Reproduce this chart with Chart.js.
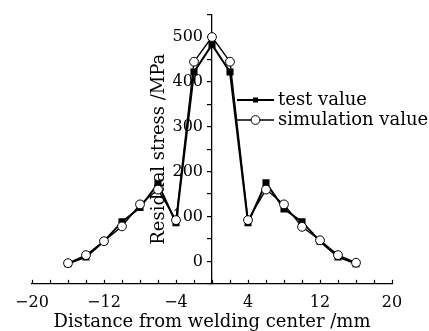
<!DOCTYPE html>
<html>
<head>
<meta charset="utf-8">
<script src="https://cdn.jsdelivr.net/npm/chart.js@4"></script>
<style>
  html, body { margin: 0; padding: 0; background: #fff; }
  .chart-wrap { width: 429px; height: 331px; }
</style>
</head>
<body>
<div class="chart-wrap"><canvas id="stress-chart" width="429" height="331"></canvas></div>
<script>
// distance from welding center (mm)
const distances = [-16, -14, -12, -10, -8, -6, -4, -2, 0, 2, 4, 6, 8, 10, 12, 14, 16];
// residual stress (MPa)
const testValues = [-5, 10, 45, 88, 120, 173, 86, 422, 483, 422, 86, 175, 117, 88, 45, 10, -5];
const simValues = [-4, 14, 45, 78, 127, 160, 92, 445, 500, 445, 92, 160, 127, 77, 47, 14, -3];
const seriesNames = ['test value', 'simulation value'];
const xTickLabels = [-20, -12, -4, 4, 12, 20];
const yTickLabels = [0, 100, 200, 300, 400, 500];

const serif = '"DejaVu Serif", "Liberation Serif", serif';

function toPoints(ys) {
  return distances.map((x, i) => ({ x: x, y: ys[i] }));
}

// minus sign like the print
function fmt(v) {
  return v < 0 ? '\u2212' + Math.abs(v) : String(v);
}

// x ticks point up into the plot
const innerTicks = {
  id: 'innerTicks',
  afterDraw(chart) {
    const { ctx, chartArea, scales } = chart;
    const xs = scales.x;
    ctx.save();
    ctx.strokeStyle = '#000';
    ctx.lineWidth = 1.2;
    for (let v = xs.min; v <= xs.max; v += 2) {
      const px = Math.round(xs.getPixelForValue(v)) + 0.5;
      ctx.beginPath();
      ctx.moveTo(px, chartArea.bottom);
      ctx.lineTo(px, chartArea.bottom - 4);
      ctx.stroke();
    }
    ctx.restore();
  }
};

// y title sits left of the centred axis, reading bottom to top
const yTitle = {
  id: 'yTitle',
  beforeDatasetsDraw(chart) {
    const { ctx, chartArea, scales } = chart;
    const x0 = scales.x.getPixelForValue(0);
    ctx.save();
    ctx.translate(x0 - 53, (chartArea.top + chartArea.bottom) / 2);
    ctx.rotate(-Math.PI / 2);
    ctx.font = '18px ' + serif;
    ctx.fillStyle = '#000';
    ctx.textAlign = 'center';
    ctx.textBaseline = 'middle';
    ctx.fillText('Residual stress /MPa', 0, 0);
    ctx.restore();
  }
};

// legend inside the plot, right of the peak
const sideLegend = {
  id: 'sideLegend',
  afterDraw(chart) {
    const { ctx } = chart;
    const rows = [
      { ds: chart.data.datasets[1], y: 100 },
      { ds: chart.data.datasets[0], y: 120 }
    ];
    ctx.save();
    ctx.font = '18px ' + serif;
    ctx.textBaseline = 'middle';
    ctx.fillStyle = '#000';
    rows.forEach((r) => {
      const x1 = 237, x2 = 274, xm = (x1 + x2) / 2;
      ctx.strokeStyle = '#000';
      ctx.lineWidth = r.ds.borderWidth;
      ctx.beginPath();
      ctx.moveTo(x1, r.y);
      ctx.lineTo(x2, r.y);
      ctx.stroke();
      ctx.lineWidth = 1;
      if (r.ds.pointStyle === 'rect') {
        ctx.fillStyle = '#000';
        ctx.fillRect(xm - 2.5, r.y - 2.5, 5, 5);
      } else {
        ctx.fillStyle = '#fff';
        ctx.beginPath();
        ctx.arc(xm, r.y, r.ds.pointRadius, 0, Math.PI * 2);
        ctx.fill();
        ctx.stroke();
      }
      ctx.fillStyle = '#000';
      ctx.fillText(r.ds.label, 278, r.y);
    });
    ctx.restore();
  }
};

const $canvas = document.getElementById('stress-chart').getContext('2d');

new Chart($canvas, {
  type: 'line',
  data: {
    datasets: [
      {
        label: seriesNames[1],
        data: toPoints(simValues),
        borderColor: '#000',
        borderWidth: 1.4,
        pointStyle: 'circle',
        pointRadius: 4.4,
        pointBorderWidth: 1,
        pointBackgroundColor: '#fff',
        pointBorderColor: '#000',
        order: 0
      },
      {
        label: seriesNames[0],
        data: toPoints(testValues),
        borderColor: '#000',
        borderWidth: 2,
        pointStyle: 'rect',
        pointRadius: 3.6,
        pointBackgroundColor: '#000',
        pointBorderColor: '#000',
        order: 1
      }
    ]
  },
  options: {
    responsive: false,
    animation: false,
    devicePixelRatio: 1,
    layout: { padding: { left: 32, right: 37, top: 12, bottom: 0 } },
    plugins: {
      legend: { display: false },
      tooltip: { enabled: false }
    },
    scales: {
      x: {
        type: 'linear',
        position: 'bottom',
        min: -20,
        max: 20,
        grid: { display: false, drawTicks: false },
        border: { display: true, color: '#000', width: 1.3 },
        ticks: {
          stepSize: 2,
          autoSkip: false,
          maxRotation: 0,
          padding: 9,
          color: '#000',
          font: { family: serif, size: 16 },
          callback: (v) => xTickLabels.includes(v) ? fmt(v) : ''
        },
        title: {
          display: true,
          text: 'Distance from welding center /mm',
          color: '#000',
          font: { family: serif, size: 18, lineHeight: 1 },
          padding: { top: -8, bottom: 0 }
        }
      },
      y: {
        type: 'linear',
        position: 'center',
        min: -50,
        max: 550,
        grid: { drawOnChartArea: false, drawTicks: true, tickLength: 4, color: '#000', lineWidth: 1.2 },
        border: { display: true, color: '#000', width: 1.3 },
        ticks: {
          stepSize: 50,
          autoSkip: false,
          padding: 5,
          color: '#000',
          font: { family: serif, size: 16 },
          callback: (v) => yTickLabels.includes(v) ? fmt(v) : ''
        }
      }
    }
  },
  plugins: [innerTicks, yTitle, sideLegend]
});
</script>
</body>
</html>
